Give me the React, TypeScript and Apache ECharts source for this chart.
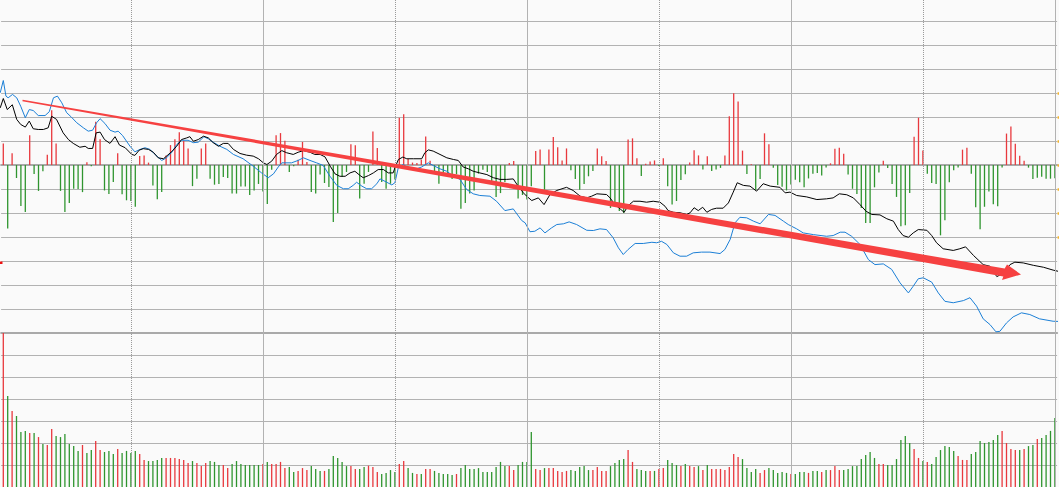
import React, { useEffect, useRef } from "react";
import * as echarts from "echarts";

const RED = "#e8383d";
const GREEN = "#2f952f";
const BLUE = "#1b7fd6";
const GRID = "#b2b2b2";

// trading days 1..240
const days: string[] = Array.from({ length: 240 }, (_, i) => String(i + 1));

// every 30th day a vertical guide line (dotted / solid alternately)
const guideDays = ["30", "60", "90", "120", "150", "180", "210", "240"];

// upper panel: daily difference bars (units of one grid step)
const diff: number[] = [
  0.9, -2.65, 0.49, -0.54, -1.71, -1.96, 1.24, -0.38, -1.08, -0.26,
  0.43, 2.28, 0.9, -1.08, -1.96, -1.58, -0.99, -1.0, -1.13, 0.11,
  -0.05, 1.8, 1.07, -1.06, -1.21, -0.71, 0.49, -1.22, -1.47, -1.5,
  -1.74, 0.38, 0.4, 0.1, -0.85, -1.43, -1.13, 0.4, 0.83, 1.07,
  1.36, 1.01, 0.69, -0.88, -0.57, 0.69, 0.9, -0.57, -0.82, -0.79,
  -0.5, -0.54, -1.19, -1.19, -0.9, -0.9, -1.25, -1.06, -0.79, -1.1,
  -1.62, -0.2, 1.24, 1.33, 1.01, -0.29, -0.05, 0.22, 0.96, 0.12,
  -1.13, -1.19, -0.4, -0.75, -0.92, -2.38, -2.0, -0.5, -0.29, 0.86,
  0.82, -1.4, -0.78, -0.29, 1.4, 0.71, -0.71, -0.99, -0.78, -0.6,
  1.97, 2.11, 0.25, 0.1, 0.08, 0.22, 1.19, 0.18, -0.25, -0.78,
  -0.39, -0.43, -0.58, -0.39, -1.82, -1.58, -1.19, -1.06, -0.36, -0.2,
  -0.29, -0.71, -1.33, -1.17, -0.71, 0.08, 0.17, -1.4, -1.25, -1.44,
  -0.89, 0.58, 0.65, -1.03, 0.65, 1.17, 0.74, 0.19, 0.69, -0.22,
  -0.58, -1.03, -0.79, -0.47, -0.25, 0.69, 0.36, 0.17, -1.79, -1.75,
  -1.92, -2.0, 1.06, 1.11, 0.28, -0.46, 0.05, 0.15, 0.19, -0.04,
  0.28, -0.89, -1.65, -1.5, -0.63, -0.39, 0.1, 0.61, 0.4, -0.19,
  0.36, -0.25, -0.19, -0.12, 0.4, 2.03, 2.99, 2.65, 0.6, -0.38,
  0.03, -1.03, -0.58, 1.32, 0.86, -0.11, -0.83, -0.91, -1.06, -0.81,
  -0.61, -0.72, -0.93, -0.56, -0.36, -0.33, -0.44, -0.1, 0.07, 0.68,
  0.72, 0.47, -0.4, -0.99, -1.21, -1.79, -2.42, -2.42, -0.93, -0.31,
  0.18, -0.13, -0.79, -1.33, -2.55, -2.51, -1.17, 1.18, 1.97, 0.6,
  -0.36, -0.75, -0.79, -2.93, -2.3, -0.72, -0.22, -0.1, 0.64, 0.72,
  -0.36, -1.76, -2.68, -1.74, -1.1, -1.64, -1.72, -0.1, 1.31, 1.6,
  0.89, 0.39, 0.18, -0.11, -0.58, -0.53, -0.49, -0.57, -0.57, -0.55,
];

// lower panel: volume (units of one grid step)
const volume: number[] = [
  7.0, 4.14, 3.45, 3.23, 2.5, 2.55, 2.45, 2.45, 2.27, 1.95,
  1.91, 2.64, 2.32, 2.27, 2.41, 1.95, 1.86, 1.64, 1.91, 1.55,
  1.68, 2.09, 1.68, 1.59, 1.64, 1.5, 1.73, 1.55, 1.64, 1.55,
  1.64, 1.5, 1.23, 1.18, 1.18, 1.23, 1.32, 1.32, 1.32, 1.32,
  1.27, 1.23, 1.09, 1.18, 1.09, 0.95, 1.09, 1.18, 1.14, 1.0,
  1.0, 0.86, 1.05, 1.18, 1.05, 1.0, 1.0, 1.0, 1.0, 1.05,
  1.14, 1.05, 1.05, 1.14, 0.86, 0.91, 0.68, 0.73, 0.86, 0.77,
  0.95, 0.82, 0.73, 0.73, 0.82, 1.41, 1.32, 1.14, 0.95, 0.96,
  0.82, 0.82, 0.91, 0.97, 0.91, 0.68, 0.59, 0.64, 0.77, 0.68,
  1.05, 1.18, 0.86, 0.64, 0.59, 0.59, 0.82, 0.82, 0.73, 0.64,
  0.59, 0.59, 0.55, 0.59, 0.86, 1.0, 0.82, 0.82, 0.86, 0.68,
  0.68, 0.68, 0.91, 1.14, 0.95, 0.95, 0.77, 1.0, 1.14, 1.14,
  2.5, 0.82, 0.77, 0.86, 0.86, 0.86, 0.73, 0.68, 0.73, 0.77,
  0.73, 0.91, 0.95, 0.77, 0.77, 0.91, 0.73, 0.73, 0.95, 1.09,
  1.23, 1.27, 1.68, 1.14, 0.82, 0.77, 0.73, 0.73, 0.73, 0.82,
  0.86, 1.23, 1.09, 1.0, 0.95, 1.05, 0.95, 0.91, 0.95, 0.77,
  1.0, 0.82, 0.82, 0.82, 0.77, 0.91, 1.5, 1.36, 1.27, 0.86,
  0.68, 0.82, 0.64, 0.77, 0.86, 0.77, 0.64, 0.68, 0.64, 0.59,
  0.59, 0.68, 0.68, 0.64, 0.73, 0.73, 0.68, 0.77, 0.77, 0.95,
  0.77, 0.77, 0.82, 0.95, 0.95, 1.27, 1.45, 1.59, 1.32, 1.05,
  1.05, 1.0, 1.0, 1.27, 2.14, 2.32, 2.0, 1.73, 1.32, 1.18,
  1.14, 1.05, 1.36, 1.68, 1.86, 1.82, 1.64, 1.41, 1.23, 1.23,
  1.5, 1.59, 2.09, 2.0, 2.05, 2.14, 2.36, 2.55, 2.0, 1.73,
  1.68, 1.68, 1.73, 1.86, 1.91, 2.18, 2.23, 2.36, 2.55, 3.14,
];

// 1 = up day (red), 0 = down day (green)
const volUp: number[] = [
  1, 0, 1, 0, 0, 0, 1, 0, 1, 0, 1, 1, 0, 0, 0, 0, 0, 0, 1, 0,
  0, 1, 1, 0, 0, 0, 1, 0, 0, 0, 0, 1, 1, 0, 0, 0, 0, 1, 1, 1,
  1, 1, 1, 0, 1, 1, 1, 0, 0, 0, 1, 1, 0, 0, 0, 0, 0, 0, 0, 1,
  0, 1, 1, 1, 1, 0, 0, 1, 1, 1, 0, 0, 0, 1, 0, 0, 0, 0, 0, 1,
  1, 0, 0, 1, 1, 1, 0, 0, 0, 0, 1, 1, 0, 0, 1, 0, 1, 1, 0, 0,
  0, 0, 0, 1, 0, 0, 0, 0, 0, 0, 0, 0, 0, 0, 0, 1, 1, 0, 0, 0,
  0, 1, 1, 0, 1, 1, 1, 1, 1, 0, 0, 0, 0, 0, 1, 1, 1, 1, 0, 0,
  0, 0, 1, 1, 0, 0, 0, 1, 0, 1, 1, 0, 0, 0, 1, 0, 1, 1, 0, 1,
  0, 1, 1, 1, 1, 1, 1, 1, 0, 0, 0, 0, 1, 1, 0, 0, 0, 0, 0, 1,
  0, 0, 0, 1, 0, 0, 1, 0, 1, 1, 1, 0, 0, 0, 0, 0, 0, 0, 0, 1,
  1, 0, 0, 0, 0, 0, 0, 1, 1, 0, 1, 0, 0, 0, 0, 0, 0, 1, 1, 1,
  0, 0, 0, 0, 0, 0, 0, 1, 1, 1, 1, 0, 1, 0, 0, 1, 0, 0, 0, 0,
];

// black line: [day index, value]
const blackLine: number[][] = [
  [-0.7, 2.38], [0, 2.77], [0.9, 2.31], [2.05, 2.51], [3.05, 1.9], [3.95, 1.69], [5, 1.58], [5.9, 1.83],
  [6.8, 1.51], [7.95, 1.48], [9.1, 1.48], [10.2, 1.55], [11, 2.03], [12.1, 1.9], [13.6, 1.34], [14.8, 1.06],
  [15.9, 0.9], [17.4, 0.74], [18.6, 0.78], [19.3, 0.69], [20.3, 0.69], [21.1, 1.34], [22, 1.37], [23, 1.06],
  [24.25, 0.9], [25.4, 1.18], [26.4, 0.83], [27.7, 0.72], [29.2, 0.44], [29.9, 0.4], [30.9, 0.62], [31.8, 0.68],
  [33, 0.65], [34.1, 0.53], [35.2, 0.3], [36.4, 0.26], [37.1, 0.37], [38.3, 0.56], [39.4, 0.78], [40.5, 1.06],
  [41.7, 1.13], [42.4, 1.18], [43.2, 0.99], [44.3, 1.06], [45.5, 1.2], [46.6, 1.13], [47.7, 0.93], [48.9, 0.78],
  [50, 0.9], [51.1, 0.9], [52.3, 0.65], [53.8, 0.48], [55.3, 0.41], [56.8, 0.37], [58, 0.26], [59.1, 0.09],
  [59.9, 0.02], [61, 0.16], [62.1, 0.44], [63.3, 0.6], [64.4, 0.51], [65.9, 0.44], [67, 0.53], [68.2, 0.6],
  [69.7, 0.53], [70.8, 0.44], [72, 0.44], [73.1, 0.34], [74.3, -0.05], [75.4, -0.37], [76.5, -0.47], [77.7, -0.47],
  [78.8, -0.33], [79.9, -0.26], [81.1, -0.44], [81.8, -0.53], [83, -0.44], [84.1, -0.33], [85.2, -0.19], [86.4, -0.19],
  [87.5, -0.33], [88.6, -0.33], [89, -0.12], [89.8, 0.23], [90.8, 0.33], [91.7, 0.26], [93.2, 0.26], [95.1, 0.26],
  [95.8, 0.51], [96.6, 0.63], [97.7, 0.58], [99.25, 0.44], [100.8, 0.3], [102.3, 0.23], [103.4, 0.19], [104.5, -0.08],
  [105.7, -0.16], [106.8, -0.26], [108.3, -0.33], [109.9, -0.4], [111.4, -0.53], [112.9, -0.6], [114.4, -0.6], [115.9, -0.58],
  [117, -0.88], [118.2, -1.16], [118.95, -1.3], [120.1, -1.48], [121.6, -1.37], [122.9, -1.65], [124.25, -1.23], [125.8, -1.06],
  [128, -0.93], [129.5, -1.06], [131.1, -1.3], [132.6, -1.37], [133.7, -1.3], [134.9, -1.2], [137.1, -1.23], [137.9, -1.37],
  [139, -1.65], [140.2, -1.83], [141.1, -1.97], [142.05, -1.69], [143.2, -1.51], [144.7, -1.51], [146.2, -1.55], [147.7, -1.51],
  [149.25, -1.55], [150.4, -1.72], [151.1, -1.9], [152.3, -1.97], [153.8, -1.99], [155.3, -2.06], [156.1, -1.99], [157, -1.78],
  [157.95, -1.9], [158.95, -1.76], [159.9, -1.97], [161, -1.85], [162.1, -1.8], [163.6, -1.8], [164.8, -1.58], [165.9, -1.13],
  [166.8, -0.74], [168.2, -0.85], [169.7, -0.88], [171.2, -1.09], [172.7, -0.78], [174.3, -0.88], [176.5, -0.93], [177.7, -1.16],
  [178.8, -1.13], [180.3, -1.27], [182.6, -1.33], [184.9, -1.44], [187.1, -1.41], [188.6, -1.37], [190, -1.2], [191.7, -1.24],
  [193.2, -1.37], [194.7, -1.65], [196.1, -1.93], [197.4, -2.06], [199.25, -2.08], [200.8, -2.24], [202.3, -2.34], [203.4, -2.69],
  [204.5, -2.94], [205.7, -3.01], [206.8, -2.83], [207.95, -2.69], [209.9, -2.72], [211, -2.94], [212.1, -3.24], [213.6, -3.49],
  [215.9, -3.56], [217.4, -3.49], [218.7, -3.41], [220.5, -3.77], [222.7, -4.15], [224.25, -4.22], [225.8, -4.65], [227.2, -4.52],
  [228.8, -4.15], [229.9, -4.05], [231.8, -4.08], [234.1, -4.18], [236.4, -4.26], [238.6, -4.38], [240, -4.44],
];

// blue line: [day index, value]
const blueLine: number[][] = [
  [-0.7, 3.01], [0, 3.52], [0.6, 2.87], [1.1, 2.8], [2.1, 2.94], [3.05, 2.8], [3.95, 2.45], [5, 1.97],
  [5.9, 2.31], [6.8, 2.27], [7.95, 2.06], [9.5, 2.06], [10.45, 2.22], [11.4, 2.8], [12.3, 2.87], [13.3, 2.59],
  [14.4, 2.18], [15.5, 1.99], [16.7, 1.76], [18.2, 1.55], [19.3, 1.41], [20.3, 1.45], [21.2, 1.76], [22, 1.93],
  [23.1, 1.73], [24.25, 1.45], [25.4, 1.37], [26.1, 1.41], [27.1, 1.23], [28.8, 0.78], [29.9, 0.55], [31.1, 0.65],
  [32.2, 0.72], [33.3, 0.65], [34.5, 0.44], [36, 0.19], [37.1, 0.3], [38.3, 0.53], [39.4, 0.85], [40.5, 1.03],
  [42, 1.03], [43.2, 0.93], [44.3, 0.95], [45.6, 1.18], [46.6, 1.09], [47.7, 0.95], [49.25, 0.78], [50.8, 0.65],
  [52.3, 0.44], [54.5, 0.26], [56.8, -0.05], [58.7, -0.33], [60.2, -0.53], [61.4, -0.37], [62.5, -0.08], [63.3, 0.09],
  [65.5, 0.09], [67, 0.19], [68.2, 0.3], [69.7, 0.19], [71.2, 0.09], [72.7, -0.02], [74.25, -0.47], [75.8, -0.85],
  [77.3, -0.99], [78.4, -0.99], [79.5, -0.85], [80.3, -0.72], [81.5, -0.88], [82.6, -0.99], [83.7, -0.99], [84.9, -0.78],
  [85.6, -0.58], [86.75, -0.68], [88.3, -0.83], [89, -0.74], [89.8, -0.09], [90.9, 0.02], [92, -0.12], [93.95, -0.16],
  [95.1, -0.08], [96.6, 0.09], [97.7, -0.02], [99.25, -0.16], [100.8, -0.26], [102.3, -0.47], [103.8, -0.6], [105.3, -1.02],
  [106.8, -1.2], [108.3, -1.27], [110.6, -1.3], [112.1, -1.51], [114, -1.9], [115.9, -1.83], [117.8, -2.31], [118.6, -2.41],
  [119.7, -2.78], [120.8, -2.76], [122, -2.62], [123.1, -2.83], [124.6, -2.62], [125.8, -2.48], [127.3, -2.45], [128.6, -2.37],
  [130.3, -2.48], [132.6, -2.72], [134.1, -2.73], [135.6, -2.66], [137.1, -2.69], [138.6, -3.03], [139.8, -3.45], [140.9, -3.73],
  [142, -3.52], [143.6, -3.27], [145.45, -3.27], [147.4, -3.22], [148.5, -3.24], [149.6, -3.18], [150.8, -3.31], [152.3, -3.66],
  [153.8, -3.8], [155.3, -3.8], [156.8, -3.66], [158.7, -3.63], [160.6, -3.63], [162.9, -3.69], [164, -3.52], [165.2, -3.1],
  [166.3, -2.41], [167.4, -2.18], [168.95, -2.2], [170.5, -2.34], [172, -2.45], [173.9, -2.06], [175.4, -2.1], [177.3, -2.34],
  [178.4, -2.48], [180.3, -2.66], [181.8, -2.83], [184.1, -2.9], [187.1, -2.97], [188.6, -2.94], [190.2, -2.8], [191.3, -2.8],
  [192.8, -2.97], [194.7, -3.31], [196.6, -3.94], [198.1, -4.15], [200, -4.12], [201.9, -4.35], [203.8, -4.91], [205.7, -5.33],
  [206.8, -5.05], [207.95, -4.74], [209.1, -4.7], [211, -4.88], [212.5, -5.33], [214, -5.68], [215.9, -5.74], [218.2, -5.65],
  [219.7, -5.53], [221.2, -5.88], [222.7, -6.41], [224.25, -6.65], [225.6, -6.95], [226.5, -6.93], [228, -6.58], [229.5, -6.33],
  [231.4, -6.16], [233.3, -6.23], [235.5, -6.41], [238.6, -6.51], [240, -6.52],
];

const GL = 1.1;
const GR = 1.9;

function buildOption(): any {
  const guideData = guideDays.map((d, k) => ({
    xAxis: d,
    lineStyle: {
      color: k % 2 === 0 ? "#9a9a9a" : GRID,
      width: 1,
      type: k % 2 === 0 ? [1, 1] : "solid",
    },
  }));

  const edgeDots = [0, 1, 2, 3, 4, 5, 6].map((k) => ({
    type: "circle",
    z: 100,
    silent: true,
    shape: { cx: 1058.6, cy: 93.5 + 24 * k, r: 1.3 },
    style: { fill: "#f2b431" },
  }));

  return {
    animation: false,
    backgroundColor: "#fafafa",
    grid: [
      { left: GL, right: GR, top: 21, height: 312 },
      { left: GL, right: GR, top: 333, height: 154 },
      { left: GL, right: GR, top: 0, height: 487 },
    ],
    xAxis: [
      {
        type: "category",
        gridIndex: 0,
        data: days,
        boundaryGap: true,
        axisLine: { show: true, onZero: true, lineStyle: { color: "#a9a9a9", width: 2 } },
        axisTick: { show: false },
        axisLabel: { show: false },
        splitLine: { show: false },
      },
      {
        type: "value",
        gridIndex: 0,
        min: -0.5,
        max: 239.5,
        show: false,
      },
      {
        type: "category",
        gridIndex: 1,
        data: days,
        position: "top",
        boundaryGap: true,
        axisLine: { show: true, onZero: false, lineStyle: { color: "#a9a9a9", width: 2 } },
        axisTick: { show: false },
        axisLabel: { show: false },
        splitLine: { show: false },
      },
      {
        type: "category",
        gridIndex: 2,
        data: days,
        boundaryGap: true,
        show: false,
      },
    ],
    yAxis: [
      {
        type: "value",
        gridIndex: 0,
        min: -7,
        max: 6,
        interval: 1,
        axisLine: { show: false },
        axisTick: { show: false },
        axisLabel: { show: false },
        splitLine: { show: true, lineStyle: { color: GRID, width: 1 } },
      },
      {
        type: "value",
        gridIndex: 1,
        min: 0,
        max: 7,
        interval: 1,
        axisLine: { show: false },
        axisTick: { show: false },
        axisLabel: { show: false },
        splitLine: { show: true, lineStyle: { color: GRID, width: 1 } },
      },
      {
        type: "value",
        gridIndex: 2,
        min: 0,
        max: 1,
        show: false,
      },
    ],
    series: [
      {
        type: "line",
        xAxisIndex: 3,
        yAxisIndex: 2,
        data: [],
        silent: true,
        z: 1,
        markLine: {
          silent: true,
          symbol: ["none", "none"],
          label: { show: false },
          data: guideData,
        },
      },
      {
        type: "bar",
        xAxisIndex: 0,
        yAxisIndex: 0,
        data: diff,
        barWidth: 1.3,
        z: 2,
        itemStyle: {
          color: (p: any) => (p.value >= 0 ? RED : GREEN),
        },
      },
      {
        type: "bar",
        xAxisIndex: 2,
        yAxisIndex: 1,
        data: volume,
        barWidth: 1.3,
        z: 2,
        itemStyle: {
          color: (p: any) => (volUp[p.dataIndex] ? RED : GREEN),
        },
      },
      {
        type: "line",
        xAxisIndex: 1,
        yAxisIndex: 0,
        data: blueLine,
        symbol: "none",
        showSymbol: false,
        z: 3,
        lineStyle: { color: BLUE, width: 1 },
      },
      {
        type: "line",
        xAxisIndex: 1,
        yAxisIndex: 0,
        data: blackLine,
        symbol: "none",
        showSymbol: false,
        z: 3,
        lineStyle: { color: "#000000", width: 1 },
      },
    ],
    graphic: [
      {
        type: "polygon",
        z: 100,
        silent: true,
        shape: {
          points: [
            [22.64, 99.7],
            [1004.7, 268.6],
            [1007, 264.5],
            [1021, 274.5],
            [1002, 280],
            [1003.3, 276.4],
            [22.36, 101.3],
          ],
        },
        style: { fill: "#f64141" },
      },
      {
        type: "rect",
        z: 100,
        silent: true,
        shape: { x: 0, y: 261.5, width: 2.5, height: 2.5 },
        style: { fill: "#ee1111" },
      },
      ...edgeDots,
    ],
  };
}

export default function App() {
  const ref = useRef<HTMLDivElement>(null);
  useEffect(() => {
    if (!ref.current) return;
    const chart = echarts.init(ref.current, undefined, { renderer: "svg" });
    chart.setOption(buildOption());
    return () => chart.dispose();
  }, []);
  return (
    <div
      ref={ref}
      style={{ position: "fixed", left: 0, top: 0, width: 1059, height: 487, background: "#fafafa" }}
    />
  );
}
